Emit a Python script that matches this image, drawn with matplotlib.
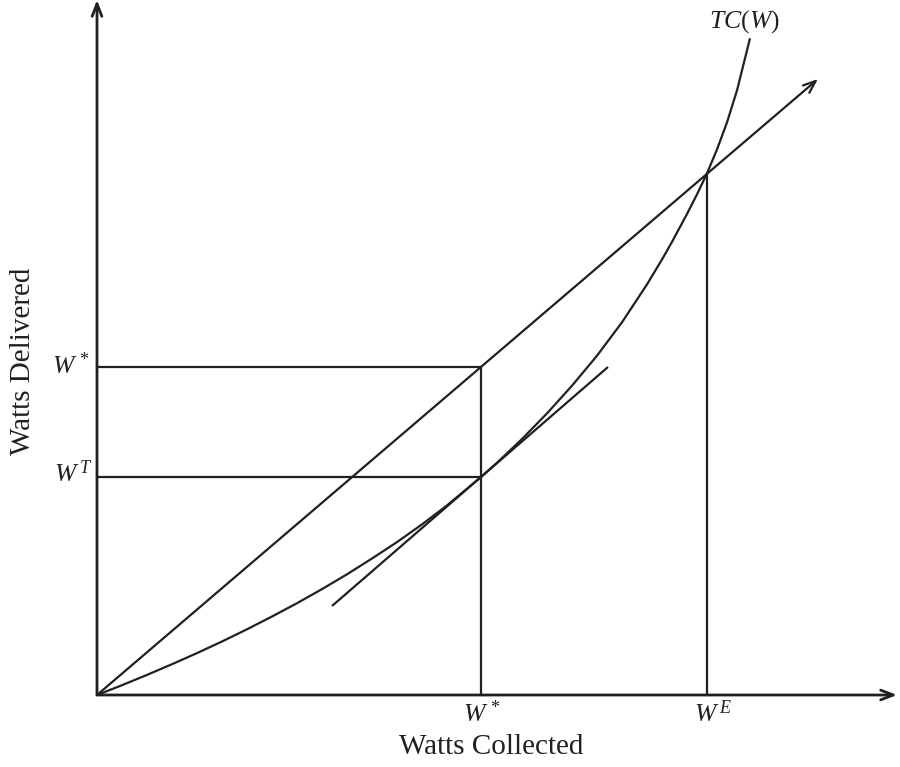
import numpy as np
import matplotlib
matplotlib.use("Agg")
import matplotlib.pyplot as plt

plt.rcParams['font.family'] = ['Liberation Serif', 'DejaVu Serif']
plt.rcParams['mathtext.fontset'] = 'custom'
plt.rcParams['mathtext.rm'] = 'Liberation Serif'
plt.rcParams['mathtext.it'] = 'Liberation Serif:italic'

ink = '#231f20'
lw = 1.6
fsize = 21
lsize = 18.5

# total cost curve TC(W)
tc_x = [0, 25, 50, 75, 100, 125, 150, 175, 200, 225, 250, 275, 300, 325, 350, 384,
        400, 425, 450, 475, 500, 525, 550, 565, 575, 590, 600, 610, 620, 630, 640, 653]
tc_y = [0, 9.8, 20.1, 30.8, 41.9, 53.5, 65.7, 78.5, 91.8, 105.9, 120.7, 136.5, 152.9,
        170.6, 189.6, 218, 232.2, 256.0, 281.6, 309.3, 339.3, 372.7, 410.6, 435.5,
        453.1, 481.0, 500.6, 521.6, 545.6, 572.6, 604.6, 656.7]

# delivered line (origin -> arrow tip)
diag_x = [0, 721]
diag_y = [0, 616]

# tangent at W^T
tan_x = [235, 511]
tan_y = [89, 328]

w_star = 384
w_E = 610
wd_star = 328
wd_T = 218
wd_E = 521

x_max = 800
y_max = 695

f = plt.figure(figsize=(9, 7.67), dpi=100)
ax = f.add_axes([0, 0, 1, 1])
ax.set_xlim(-97, 803)
ax.set_ylim(-72, 695)
ax.axis('off')

arrow = dict(arrowstyle='->,head_length=0.9,head_width=0.35', color=ink, lw=lw + 0.4,
             shrinkA=0, shrinkB=0)
ax.annotate('', xy=(x_max, 0), xytext=(0, 0), arrowprops=arrow)
ax.annotate('', xy=(0, y_max), xytext=(0, 0), arrowprops=arrow)
ax.annotate('', xy=(diag_x[1], diag_y[1]), xytext=(diag_x[0], diag_y[0]),
            arrowprops=dict(arrow, lw=lw))

ax.plot(tc_x, tc_y, '-', color=ink, lw=lw, solid_capstyle='butt')
ax.plot(tan_x, tan_y, '-', color=ink, lw=lw, solid_capstyle='butt')

ax.plot([0, w_star, w_star], [wd_star, wd_star, 0], '-', color=ink, lw=lw)
ax.plot([0, w_star], [wd_T, wd_T], '-', color=ink, lw=lw)
ax.plot([w_E, w_E], [0, wd_E], '-', color=ink, lw=lw)

ax.text(w_star + 1, -19, r'$W^{\,*}$', fontsize=lsize, ha='center', va='center', color=ink)
ax.text(w_E + 6, -19, r'$W^{\,E}$', fontsize=lsize, ha='center', va='center', color=ink)
ax.text(-7, wd_star + 1, r'$W^{\,*}$', fontsize=lsize, ha='right', va='center', color=ink)
ax.text(-5, wd_T + 3, r'$W^{\,T}$', fontsize=lsize, ha='right', va='center', color=ink)
ax.text(647, 673, r'$TC(W)$', fontsize=lsize, ha='center', va='center', color=ink)

ax.text(394, -52, 'Watts Collected', fontsize=fsize, ha='center', va='center', color=ink)
ax.text(-74, 334, 'Watts Delivered', fontsize=fsize, ha='center', va='center',
        rotation=90, color=ink)

plt.savefig('out.png', dpi=100)
